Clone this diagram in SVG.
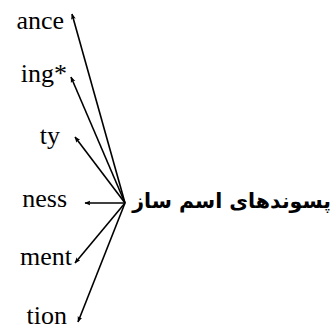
<svg xmlns="http://www.w3.org/2000/svg" width="335" height="331" viewBox="0 0 335 331">
<style>
.lbl{font-family:"Liberation Serif",serif;font-size:26px;fill:#000;text-anchor:end}
.fa{font-family:"DejaVu Sans","Noto Sans",sans-serif;font-size:20.5px;font-weight:bold;fill:#000;text-anchor:end}
.c{stroke:#000;stroke-width:1.6;fill:none;marker-end:url(#ah)}
</style>
<defs>
<marker id="ah" viewBox="0 0 10 10" refX="9" refY="5" markerWidth="6" markerHeight="6" orient="auto" markerUnits="userSpaceOnUse">
<path d="M0,1 L10,5 L0,9 L2,5 Z" fill="#000"/>
</marker>
</defs>
<rect width="335" height="331" fill="#fff"/>
<g id="connectors">
<line class="c" x1="125" y1="203" x2="72" y2="14"/>
<line class="c" x1="125" y1="203" x2="71" y2="77"/>
<line class="c" x1="125" y1="203" x2="75" y2="137"/>
<line class="c" x1="125" y1="203" x2="85" y2="203"/>
<line class="c" x1="125" y1="203" x2="75" y2="263"/>
<line class="c" x1="125" y1="203" x2="78" y2="322"/>
</g>
<g id="ance"><text class="lbl" x="64" y="29">ance</text></g>
<g id="ing"><text class="lbl" x="67" y="82">ing*</text></g>
<g id="ty"><text class="lbl" x="60" y="144">ty</text></g>
<g id="ness"><text class="lbl" x="67" y="207">ness</text></g>
<g id="ment"><text class="lbl" x="72" y="265">ment</text></g>
<g id="tion"><text class="lbl" x="67" y="324">tion</text></g>
<g id="center"><text class="fa" x="331" y="208">پسوندهای اسم ساز</text></g>
</svg>
